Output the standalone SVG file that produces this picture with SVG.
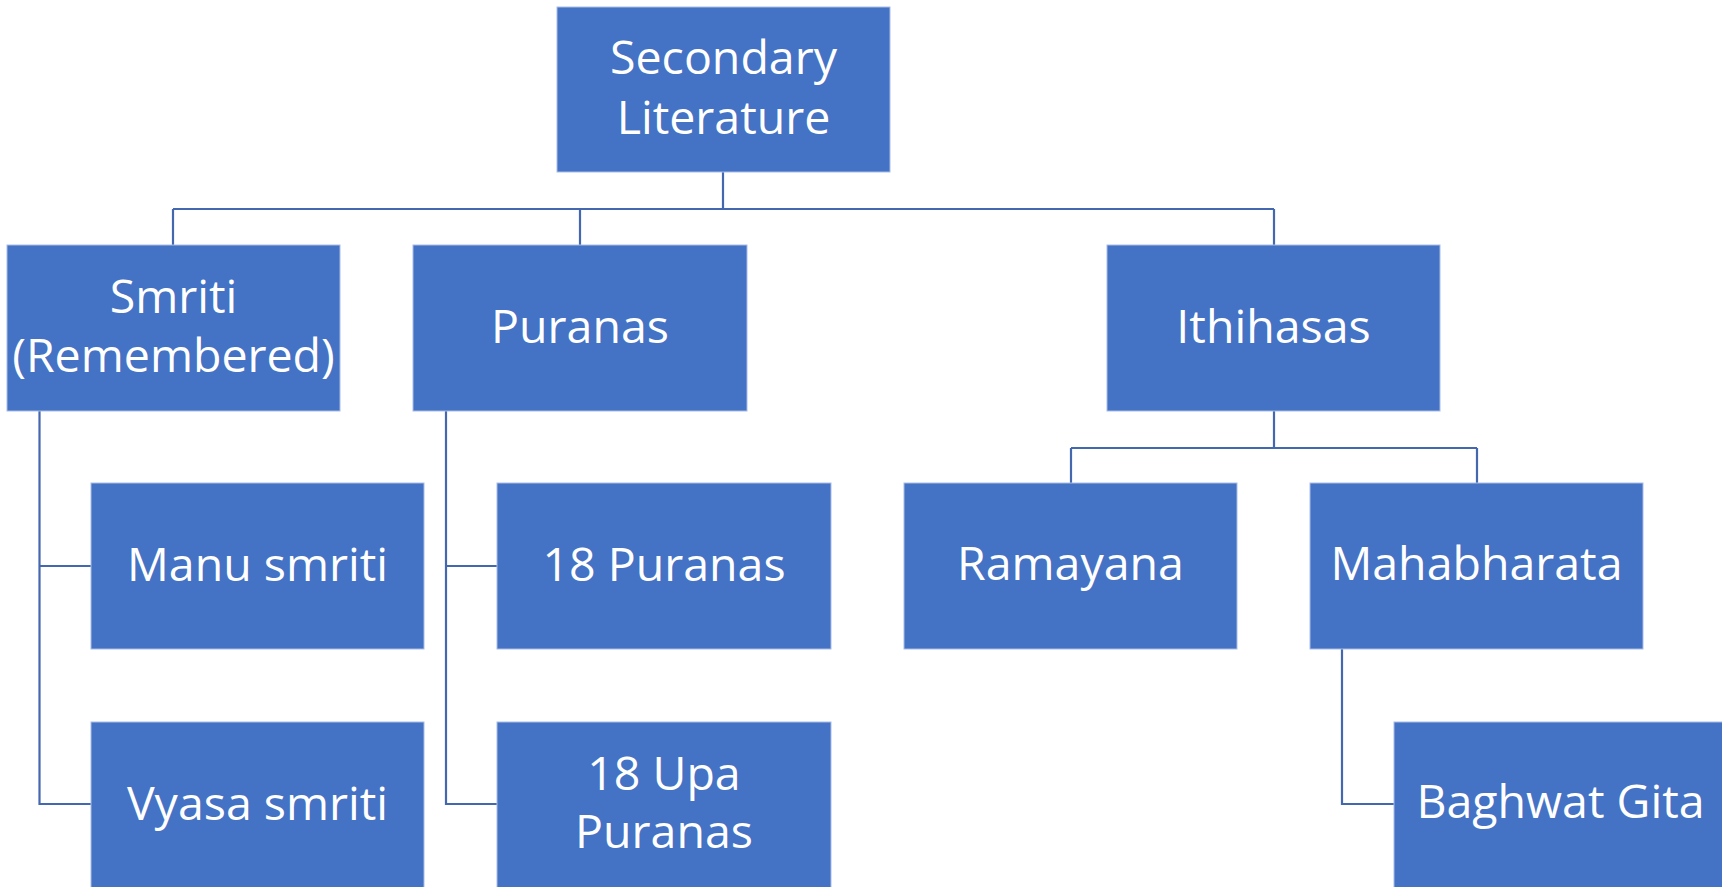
<svg xmlns="http://www.w3.org/2000/svg" width="1722" height="887" viewBox="0 0 1722 887">
<style>
.box{fill:#4472C4;stroke:#A9BDE6;stroke-width:1}
.lbl{font-family:"Open Sans","Liberation Sans",sans-serif;font-size:46.5px;fill:#ffffff;text-anchor:middle}
.ln{fill:none;stroke:#4468B0;stroke-width:2.2}
</style>
<rect width="1722" height="887" fill="#ffffff"/>
<g id="connectors">
<path class="ln" d="M723 172V209M173 209H1274M173 209V245M580 209V245M1274 209V245"/>
<path class="ln" d="M39.5 411V804H91M39.5 566H91"/>
<path class="ln" d="M446 411V804H497M446 566H497"/>
<path class="ln" d="M1274 411V448M1071 448H1477M1071 448V483M1477 448V483"/>
<path class="ln" d="M1342 649V804H1394"/>
</g>
<g id="n-root"><rect class="box" x="557" y="7" width="333" height="165"/><text class="lbl" x="723.5" y="74">Secondary</text><text class="lbl" x="723.5" y="134">Literature</text></g>
<g id="n-smriti"><rect class="box" x="7" y="245" width="333" height="166"/><text class="lbl" x="173.5" y="313">Smriti</text><text class="lbl" x="173.5" y="372">(Remembered)</text></g>
<g id="n-puranas"><rect class="box" x="413" y="245" width="334" height="166"/><text class="lbl" x="580" y="343">Puranas</text></g>
<g id="n-ithihasas"><rect class="box" x="1107" y="245" width="333" height="166"/><text class="lbl" x="1273.5" y="343">Ithihasas</text></g>
<g id="n-manu"><rect class="box" x="91" y="483" width="333" height="166"/><text class="lbl" x="257.5" y="581">Manu smriti</text></g>
<g id="n-vyasa"><rect class="box" x="91" y="722" width="333" height="170"/><text class="lbl" x="257.5" y="820">Vyasa smriti</text></g>
<g id="n-18p"><rect class="box" x="497" y="483" width="334" height="166"/><text class="lbl" x="664" y="581">18 Puranas</text></g>
<g id="n-18up"><rect class="box" x="497" y="722" width="334" height="170"/><text class="lbl" x="664" y="790">18 Upa</text><text class="lbl" x="664" y="848">Puranas</text></g>
<g id="n-ramayana"><rect class="box" x="904" y="483" width="333" height="166"/><text class="lbl" x="1070.5" y="580">Ramayana</text></g>
<g id="n-mahabharata"><rect class="box" x="1310" y="483" width="333" height="166"/><text class="lbl" x="1476.5" y="580">Mahabharata</text></g>
<g id="n-gita"><rect class="box" x="1394" y="722" width="333" height="170"/><text class="lbl" x="1560.5" y="818">Baghwat Gita</text></g>
</svg>
